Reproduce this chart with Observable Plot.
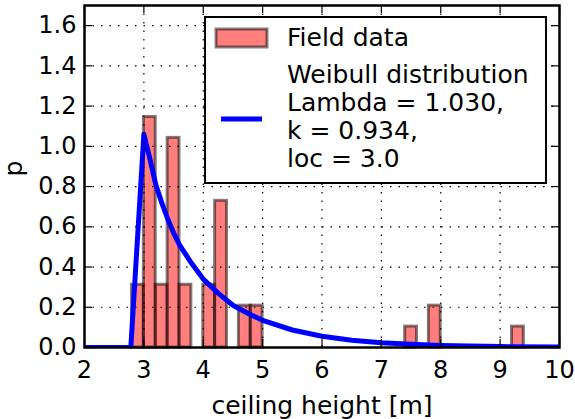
<!DOCTYPE html>
<html>
<head>
<meta charset="utf-8">
<script src="https://cdn.jsdelivr.net/npm/d3@7"></script>
<script src="https://cdn.jsdelivr.net/npm/@observablehq/plot@0.6"></script>
<style>
  html, body { margin: 0; padding: 0; background: #fff; }
  #chart svg { display: block; }
  #chart svg text { font-family: "DejaVu Sans", sans-serif; }
</style>
</head>
<body>
<div id="chart"></div>
<script>
// ---- data ----
const xTicks = [2, 3, 4, 5, 6, 7, 8, 9, 10];
const yTicks = [0, 0.2, 0.4, 0.6, 0.8, 1.0, 1.2, 1.4, 1.6];

// histogram bins (density) — empty bins omitted
const binLeft    = [2.8,   3.0,   3.2,   3.4,   3.6,   4.0,   4.2,   4.6,   4.8,   7.4,   7.8,   9.2];
const binRight   = [3.0,   3.2,   3.4,   3.6,   3.8,   4.2,   4.4,   4.8,   5.0,   7.6,   8.0,   9.4];
const binDensity = [0.312, 1.146, 0.312, 1.042, 0.312, 0.312, 0.729, 0.208, 0.208, 0.104, 0.208, 0.104];

// fitted Weibull curve
const curveX = [2.0, 2.78, 3.0,  3.1,  3.2,  3.3,  3.4,  3.5,  3.6,  3.8,  4.0,  4.25, 4.5,  4.75, 5.0,   5.5,   6.0,   6.5,   7.0,   7.5,   8.0,   9.0,    10.0];
const curveP = [0,   0,    1.06, 0.94, 0.81, 0.72, 0.64, 0.57, 0.51, 0.42, 0.34, 0.27, 0.21, 0.17, 0.135, 0.087, 0.056, 0.036, 0.024, 0.016, 0.010, 0.0045, 0.002];

const legendLabels = ["Field data", "Weibull distribution", "Lambda = 1.030,", "k = 0.934,", "loc = 3.0"];
const xLabel = "ceiling height [m]";
const yLabel = "p";

// ---- tables built from the arrays ----
const bins = binLeft.map((x0, i) => ({x0, x1: binRight[i], p: binDensity[i]}));
const curve = curveX.map((x, i) => ({x, p: curveP[i]}));

const FONT = "DejaVu Sans";
const FS = 24, FSL = 25;
const W = 575, H = 419, ML = 84, MR = 16, MT = 5, MB = 72;
const plotW = W - ML - MR, plotH = H - MT - MB, TICK = 8;
const grid = {stroke: "black", strokeOpacity: 1, strokeWidth: 1.2, strokeDasharray: "1.5,7"};
const tickStyle = {stroke: "black", strokeWidth: 1.2};

const chart = Plot.plot({
  width: W,
  height: H,
  marginLeft: ML,
  marginRight: MR,
  marginTop: MT,
  marginBottom: MB,
  style: {fontFamily: FONT, fontSize: FS + "px", background: "white", overflow: "visible"},
  x: {domain: [2, 10], axis: null},
  y: {domain: [0, 1.7], axis: null},
  marks: [
    Plot.rect(bins, {
      x1: "x0", x2: "x1", y1: () => 0, y2: "p",
      fill: "red", fillOpacity: 0.5,
      stroke: "black", strokeOpacity: 0.5, strokeWidth: 3
    }),
    Plot.line(curve, {x: "x", y: "p", stroke: "#0000ff", strokeWidth: 5, clip: true, curve: "linear"}),
    Plot.gridX(xTicks.slice(1, -1), grid),
    Plot.gridY(yTicks.slice(1), grid),
    Plot.frame({stroke: "black", strokeWidth: 2.5}),
    // inward tick marks on all four sides
    Plot.tickX(xTicks, {x: d => d, insetTop: plotH - TICK, ...tickStyle}),
    Plot.tickX(xTicks, {x: d => d, insetBottom: plotH - TICK, ...tickStyle}),
    Plot.tickY(yTicks, {y: d => d, insetRight: plotW - TICK, ...tickStyle}),
    Plot.tickY(yTicks, {y: d => d, insetLeft: plotW - TICK, ...tickStyle}),
    // tick labels
    Plot.axisX(xTicks, {anchor: "bottom", tickSize: 0, tickPadding: 13, fontSize: FS, label: null, tickFormat: d3.format("d")}),
    Plot.axisY(yTicks, {anchor: "left", tickSize: 0, tickPadding: 8, fontSize: FS, label: null, tickFormat: d3.format(".1f")}),
    // axis titles
    Plot.text([xLabel], {text: d => d, frameAnchor: "bottom", dy: 66, lineAnchor: "bottom", fontSize: FSL}),
    Plot.text([yLabel], {text: d => d, frameAnchor: "left", dx: -63, rotate: -90, lineAnchor: "bottom", fontSize: FSL})
  ]
});

document.getElementById("chart").appendChild(chart);

// ---- legend (upper right, inside the axes) ----
const svg = d3.select(chart);
const lg = svg.append("g").style("font-size", FSL + "px").attr("text-anchor", "start");
lg.append("rect").attr("x", 205).attr("y", 17).attr("width", 341).attr("height", 166)
  .attr("fill", "white").attr("stroke", "black").attr("stroke-width", 2);
lg.append("rect").attr("x", 216).attr("y", 29).attr("width", 51).attr("height", 18)
  .attr("fill", "red").attr("fill-opacity", 0.5)
  .attr("stroke", "black").attr("stroke-opacity", 0.5).attr("stroke-width", 3);
lg.append("line").attr("x1", 221).attr("x2", 262).attr("y1", 119).attr("y2", 119)
  .attr("stroke", "#0000ff").attr("stroke-width", 5);
const baselines = [46, 83, 111, 139, 167];
legendLabels.forEach((t, i) => {
  lg.append("text").attr("x", 287).attr("y", baselines[i]).attr("fill", "black")
    .attr("text-anchor", "start").text(t);
});
</script>
</body>
</html>
